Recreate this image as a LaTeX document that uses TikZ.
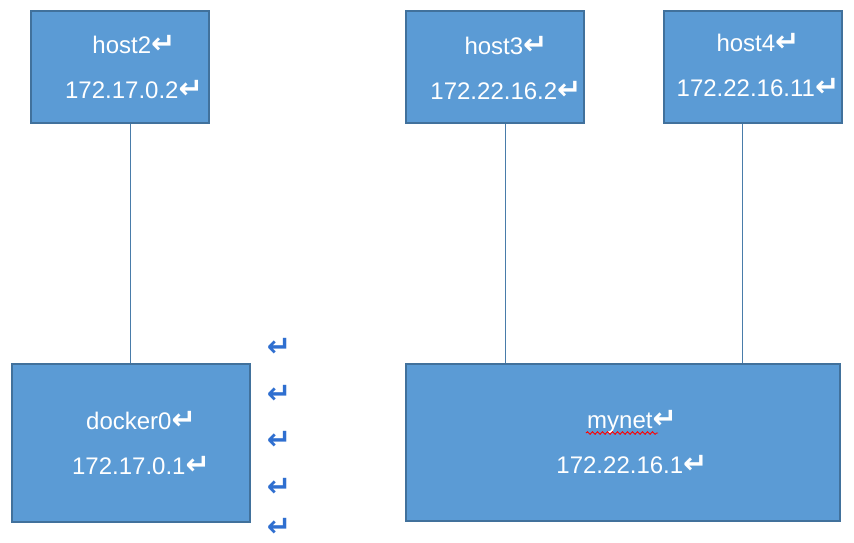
\documentclass[tikz,border=0pt]{standalone}
\usepackage{fontspec}
\setmainfont{Liberation Sans}
\newfontfamily\markfont{DejaVu Sans Bold}
\usetikzlibrary{decorations.pathmorphing}
\definecolor{boxblue}{HTML}{5B9BD5}
\definecolor{boxedge}{HTML}{41719C}
\definecolor{markblue}{HTML}{2F6FD0}
\newcommand{\ret}{{\markfont\fontsize{29}{29}\selectfont ↵}}

\begin{document}
\begin{tikzpicture}[x=1pt,y=-1pt,
    netbox/.style={fill=boxblue, draw=boxedge, line width=1.5pt, anchor=north west, inner sep=0pt},
    boxtext/.style={text=white, font=\fontsize{24}{45}\selectfont, align=center, inner sep=0pt},
    retmark/.style={text=markblue, inner sep=0pt, text height=12pt, text depth=0pt},
    wire/.style={draw=boxblue!80!black, line width=0.9pt}]
    \useasboundingbox (0,0) rectangle (854,542);
    \def\hw{178}
    \def\hh{112}
    % boxes
    \node[netbox, minimum width=\hw pt, minimum height=\hh pt] (host2) at (30,10) {};
    \node[netbox, minimum width=\hw pt, minimum height=\hh pt] (host3) at (405,10) {};
    \node[netbox, minimum width=\hw pt, minimum height=\hh pt] (host4) at (663,10) {};
    \node[netbox, minimum width=238pt, minimum height=158pt] (docker0) at (11,363) {};
    \node[netbox, minimum width=434pt, minimum height=157pt] (mynet) at (405,363) {};
    % texts
    \node[boxtext] (host2txt) at (134,67) {host2\ret\\172.17.0.2\ret};
    \node[boxtext] (host3txt) at (506,68) {host3\ret\\172.22.16.2\ret};
    \node[boxtext] (host4txt) at (758,65) {host4\ret\\172.22.16.11\ret};
    \node[boxtext] (docker0txt) at (141,443) {docker0\ret\\172.17.0.1\ret};
    \node[boxtext] (mynettxt) at (632,442) {mynet\ret\\172.22.16.1\ret};
    \draw[red, line width=0.9pt, decorate, decoration={snake, amplitude=1.3pt, segment length=5pt}] (586,433) -- (658,433);
    % links
    \draw[wire] (docker0.north |- host2.south) -- (docker0.north);
    \draw[wire] ([xshift=11pt]host3.south) -- ([xshift=11pt]host3.south |- mynet.north);
    \draw[wire] ([xshift=-10pt]host4.south) -- ([xshift=-10pt]host4.south |- mynet.north);
    % empty paragraph marks
    \foreach \y/\n in {347/a,394/b,440/c,487/d,527/e}
        \node[retmark, anchor=base] (mark\n) at (279,\y+9) {\ret};
\end{tikzpicture}
\end{document}
